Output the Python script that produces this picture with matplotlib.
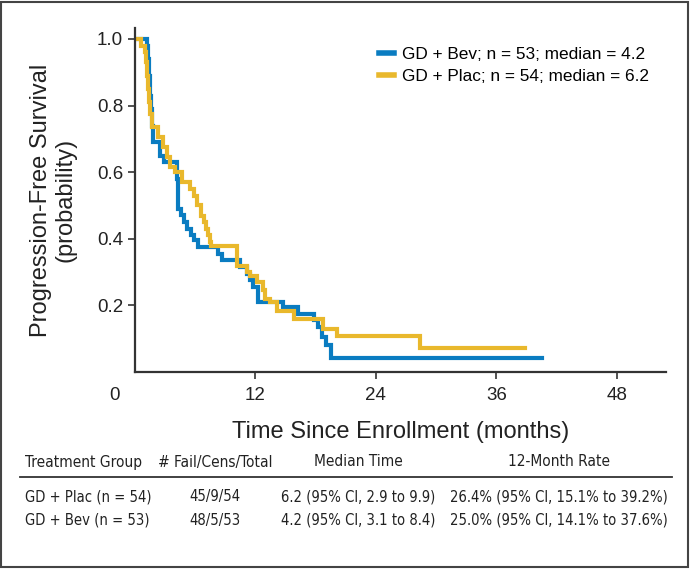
import matplotlib
matplotlib.use("Agg")
import matplotlib.pyplot as plt
from matplotlib import font_manager
from matplotlib.patches import Rectangle
from matplotlib.lines import Line2D

# Kaplan-Meier steps (time in months, survival after the drop)
bev_time = [0, 1.2, 1.3, 1.4, 1.5, 1.6, 1.7, 1.75, 2.5, 2.9, 4.2, 4.3, 4.6, 4.9, 5.2,
            5.6, 5.9, 6.3, 8.3, 8.7, 10.5, 11.2, 11.5, 11.8, 12.3, 14.7, 16.2, 17.8,
            18.2, 18.6, 19.0, 19.5, 40.5]
bev_surv = [1.0, 0.98, 0.94, 0.89, 0.83, 0.79, 0.74, 0.69, 0.65, 0.63, 0.58, 0.49, 0.47,
            0.45, 0.43, 0.41, 0.395, 0.374, 0.355, 0.335, 0.315, 0.295, 0.275, 0.255,
            0.21, 0.195, 0.175, 0.155, 0.135, 0.105, 0.08, 0.042, 0.042]

plac_time = [0, 0.6, 1.0, 1.1, 1.2, 1.3, 1.4, 1.5, 1.65, 2.3, 2.8, 3.2, 3.5, 4.0, 4.7,
             5.5, 5.9, 6.2, 6.6, 6.9, 7.1, 7.3, 7.5, 7.6, 10.2, 11.2, 11.5, 12.2, 12.8,
             13.0, 13.5, 14.2, 15.8, 18.7, 20.1, 28.4, 38.9]
plac_surv = [1.0, 0.98, 0.96, 0.93, 0.89, 0.85, 0.81, 0.775, 0.737, 0.707, 0.677, 0.647,
             0.617, 0.60, 0.57, 0.55, 0.527, 0.50, 0.467, 0.45, 0.43, 0.41, 0.39, 0.377,
             0.317, 0.30, 0.288, 0.27, 0.245, 0.22, 0.21, 0.183, 0.16, 0.13, 0.108,
             0.072, 0.072]

legend_labels = ["GD + Bev; n = 53; median = 4.2", "GD + Plac; n = 54; median = 6.2"]
x_ticks = [12, 24, 36, 48]
y_ticks = [0.2, 0.4, 0.6, 0.8, 1.0]

table_header = ["Treatment Group", "# Fail/Cens/Total", "Median Time", "12-Month Rate"]
table_rows = [
    ["GD + Plac (n = 54)", "45/9/54", "6.2 (95% CI, 2.9 to 9.9)",
     "26.4% (95% CI, 15.1% to 39.2%)"],
    ["GD + Bev (n = 53)", "48/5/53", "4.2 (95% CI, 3.1 to 8.4)",
     "25.0% (95% CI, 14.1% to 37.6%)"],
]

BLUE = "#0a7cc1"
GOLD = "#e9b82c"
AXC = "#333333"
TXT = "#222222"

plt.rcParams["font.family"] = ["Liberation Sans", "DejaVu Sans"]

# narrow face for the table, if one is installed
narrow_fam = None
for fam in ["Liberation Sans Narrow", "DejaVu Sans"]:
    fp = font_manager.FontProperties(family=fam, stretch="condensed")
    try:
        path = font_manager.findfont(fp, fallback_to_default=False)
    except ValueError:
        continue
    if "Narrow" in path or "Condensed" in path:
        narrow_fam = fam
        break
if narrow_fam is None:
    head_kw = dict(family=["Liberation Sans", "DejaVu Sans"], fontsize=10)
    row_kw = dict(family=["Liberation Sans", "DejaVu Sans"], fontsize=9.8)
else:
    head_kw = dict(family=narrow_fam, fontstretch="condensed", fontsize=11.1)
    row_kw = dict(family=narrow_fam, fontstretch="condensed", fontsize=10.6)

fig = plt.figure(figsize=(6.92, 5.70), dpi=100)
ax = fig.add_axes([0.195, 0.3474, 0.7674, 0.6035])

ax.step(bev_time, bev_surv, where="post", color=BLUE, lw=3.0, solid_joinstyle="miter")
ax.step(plac_time, plac_surv, where="post", color=GOLD, lw=3.0, solid_joinstyle="miter")

ax.set_xlim(0, 52.9)
ax.set_ylim(0, 1.033)
ax.set_xticks(x_ticks)
ax.set_yticks(y_ticks)
ax.set_yticklabels([f"{v:.1f}" for v in y_ticks])
for s in ["top", "right"]:
    ax.spines[s].set_visible(False)
for s in ["left", "bottom"]:
    ax.spines[s].set_linewidth(1.6)
    ax.spines[s].set_color(AXC)
ax.tick_params(axis="both", length=5, width=1.2, color=AXC, labelsize=13.5,
               labelcolor=TXT)
ax.tick_params(axis="x", pad=6)
# origin label, set a little left of the corner
ax.annotate("0", xy=(0, 0), xycoords="data", xytext=(-15, -10.5),
            textcoords="offset points", ha="center", va="top", fontsize=13.5,
            color=TXT)

ax.set_xlabel("Time Since Enrollment (months)", fontsize=17, color=TXT, labelpad=12)
ax.set_ylabel("Progression-Free Survival\n(probability)", fontsize=17,
              color=TXT, labelpad=15, linespacing=1.1)

handles = [Line2D([0], [0], color=BLUE, lw=4), Line2D([0], [0], color=GOLD, lw=4)]
ax.legend(handles, legend_labels, loc="upper left", bbox_to_anchor=(0.44, 0.975),
          frameon=False, fontsize=12.4, handlelength=0.9, handletextpad=0.45,
          labelspacing=0.4, borderaxespad=0.2)

# summary table below the plot
W, H = 692.0, 570.0
col_x = [25, 215, 358, 559]
col_ha = ["left", "center", "center", "center"]
header_y = 462
row_y = [497, 520]
for x, ha, txt in zip(col_x, col_ha, table_header):
    fig.text(x / W, 1 - header_y / H, txt, ha=ha, va="center", color=TXT, **head_kw)
for y, row in zip(row_y, table_rows):
    for x, ha, txt in zip(col_x, col_ha, row):
        fig.text(x / W, 1 - y / H, txt, ha=ha, va="center", color=TXT, **row_kw)
fig.add_artist(Line2D([20 / W, 672 / W], [1 - 477 / H, 1 - 477 / H],
                      color=AXC, lw=1.3, transform=fig.transFigure))

# frame around the whole figure
fig.add_artist(Rectangle((1.5 / W, 1 - 567 / H), 686.5 / W, 565.5 / H, fill=False,
                         edgecolor="#444444", lw=1.5, transform=fig.transFigure))

fig.savefig("out.png", dpi=100)
